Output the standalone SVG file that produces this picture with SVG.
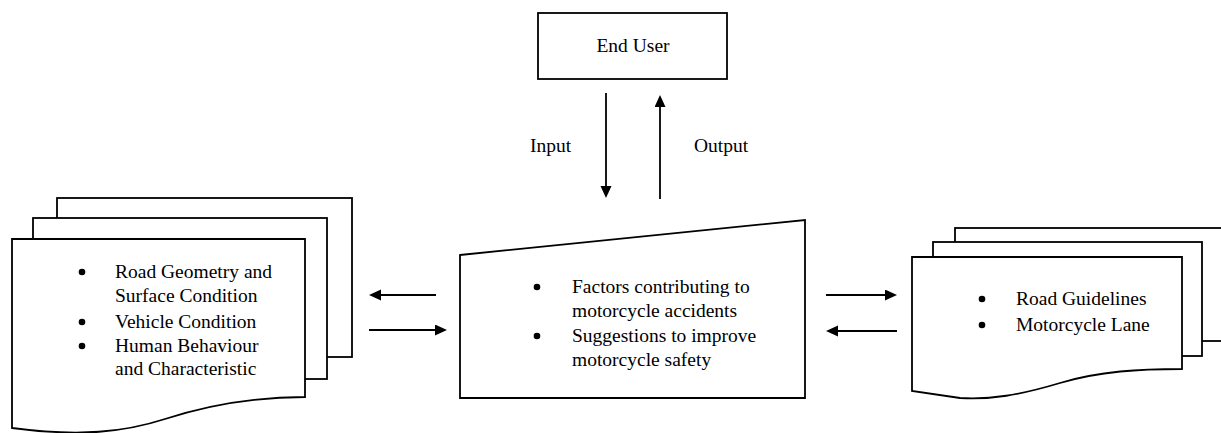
<svg xmlns="http://www.w3.org/2000/svg" width="1221" height="433" viewBox="0 0 1221 433">
  <style>
    .shape { fill: #ffffff; stroke: #000000; stroke-width: 1.8; stroke-linejoin: miter; }
    .label { font-family: "Liberation Serif", "Times New Roman", serif; font-size: 19.5px; fill: #000000; }
    .dot { fill: #000000; }
    .link { stroke: #000000; stroke-width: 1.8; fill: none; marker-end: url(#head); }
  </style>
  <defs>
    <marker id="head" markerUnits="userSpaceOnUse" markerWidth="13" markerHeight="12" refX="9" refY="5.5" orient="auto">
      <path d="M0,0 L12,5.5 L0,11 Z" fill="#000000"/>
    </marker>
  </defs>
  <rect width="1221" height="433" fill="#ffffff"/>

  <!-- End user -->
  <g id="end-user">
    <rect class="shape" x="538" y="13" width="189" height="66"/>
    <text class="label" x="633" y="52" text-anchor="middle">End User</text>
  </g>

  <!-- Road / vehicle / human factors document stack -->
  <g id="factors-docs">
    <rect class="shape" x="57" y="198" width="295" height="159"/>
    <rect class="shape" x="33" y="218" width="294" height="161"/>
    <path class="shape" d="M12,239 L305,239 L305,397 C250,397 205,406 165,419 C125,432 80,437 12,428 Z"/>
    <circle class="dot" cx="82" cy="272" r="3.3"/>
    <text class="label" x="115" y="278">Road Geometry and</text>
    <text class="label" x="115" y="302">Surface Condition</text>
    <circle class="dot" cx="82" cy="322" r="3.3"/>
    <text class="label" x="115" y="328">Vehicle Condition</text>
    <circle class="dot" cx="82" cy="346" r="3.3"/>
    <text class="label" x="115" y="352">Human Behaviour</text>
    <text class="label" x="115" y="375">and Characteristic</text>
  </g>

  <!-- Central analysis input -->
  <g id="analysis">
    <path class="shape" d="M460,255 L805,220 L805,398 L460,398 Z"/>
    <circle class="dot" cx="537" cy="287" r="3.3"/>
    <text class="label" x="572" y="293">Factors contributing to</text>
    <text class="label" x="572" y="317">motorcycle accidents</text>
    <circle class="dot" cx="537" cy="336" r="3.3"/>
    <text class="label" x="572" y="342">Suggestions to improve</text>
    <text class="label" x="572" y="366">motorcycle safety</text>
  </g>

  <!-- Guidelines document stack -->
  <g id="guideline-docs">
    <rect class="shape" x="955" y="228" width="280" height="113"/>
    <rect class="shape" x="933" y="242" width="269" height="114"/>
    <path class="shape" d="M912,257 L1182,257 L1182,369 C1140,369 1100,371 1060,383 C1020,395 990,400 960,398 L912,391 Z"/>
    <circle class="dot" cx="982" cy="299" r="3.3"/>
    <text class="label" x="1016" y="305">Road Guidelines</text>
    <circle class="dot" cx="982" cy="325" r="3.3"/>
    <text class="label" x="1016" y="331">Motorcycle Lane</text>
  </g>

  <!-- Flows -->
  <g id="connectors">
    <line class="link" x1="606" y1="93" x2="606" y2="195"/>
    <line class="link" x1="660" y1="199" x2="660" y2="98"/>
    <line class="link" x1="436" y1="295" x2="372" y2="295"/>
    <line class="link" x1="369" y1="330" x2="444" y2="330"/>
    <line class="link" x1="826" y1="295" x2="894" y2="295"/>
    <line class="link" x1="897" y1="331" x2="829" y2="331"/>
    <text class="label" x="530" y="152">Input</text>
    <text class="label" x="694" y="152">Output</text>
  </g>
</svg>
